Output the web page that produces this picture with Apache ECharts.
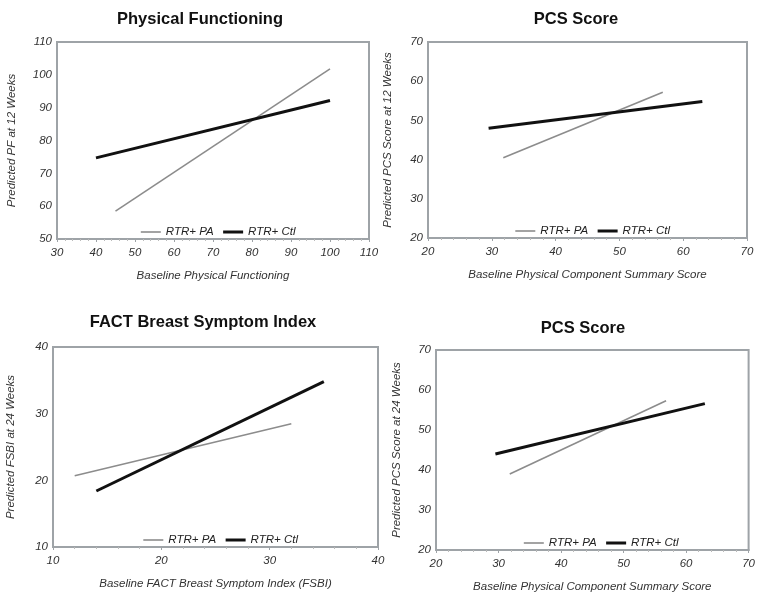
<!DOCTYPE html>
<html><head><meta charset="utf-8">
<script src="https://cdn.jsdelivr.net/npm/echarts@6/dist/echarts.min.js"></script>
<style>html,body{margin:0;padding:0;background:#fff}#c{width:758px;height:597px}</style>
</head><body><div id="c"></div>
<script>
// Panel titles
const titles = ['Physical Functioning', 'PCS Score', 'FACT Breast Symptom Index', 'PCS Score'];
const xNames = ['Baseline Physical Functioning', 'Baseline Physical Component Summary Score', 'Baseline FACT Breast Symptom Index (FSBI)', 'Baseline Physical Component Summary Score'];
const yNames = ['Predicted PF at 12 Weeks', 'Predicted PCS Score at 12 Weeks', 'Predicted FSBI at 24 Weeks', 'Predicted PCS Score at 24 Weeks'];
const seriesNames = ['RTR+ PA', 'RTR+ Ctl'];
// axis ranges [min, max, interval]
const xRanges = [[30, 110, 10], [20, 70, 10], [10, 40, 10], [20, 70, 10]];
const yRanges = [[50, 110, 10], [20, 70, 10], [10, 40, 10], [20, 70, 10]];
// Line endpoints per panel
const paX = [[45, 100], [31.8, 56.8], [12, 32], [31.8, 56.8]];
const paY = [[58.5, 101.8], [40.5, 57.2], [20.7, 28.5], [39, 57.3]];
const ctlX = [[40, 100], [29.5, 63], [14, 35], [29.5, 63]];
const ctlY = [[74.7, 92.2], [48, 54.8], [18.4, 34.8], [44, 56.6]];

const grids = [
  {left: 57, top: 42, width: 312, height: 197},
  {left: 428, top: 42, width: 319, height: 196},
  {left: 53, top: 347, width: 325, height: 200},
  {left: 436, top: 350, width: 320, height: 200}
];
const titlePos = [[195, 6], [571, 6], [198, 309], [578, 315]];
const yNameX = [18, 394, 17, 403];

const frameColor = '#9ea3a7';
const lab = {fontFamily: 'Liberation Sans, Arial, sans-serif', fontStyle: 'italic', fontSize: 11.5, color: '#333'};

const option = {
  animation: false,
  backgroundColor: '#fff',
  title: titles.map((t, i) => ({
    text: t, left: titlePos[i][0], top: titlePos[i][1], textAlign: 'center',
    textStyle: {fontFamily: 'Liberation Sans, Arial, sans-serif', fontWeight: 'bold', fontSize: 16.5, color: '#111'}
  })),
  grid: grids.map(g => Object.assign({show: true, borderColor: frameColor, borderWidth: 2, backgroundColor: '#fff'}, g)),
  legend: grids.map((g, i) => ({
    data: [
      {name: seriesNames[0], lineStyle: {width: 1.6, color: '#8c8c8c'}},
      {name: seriesNames[1], lineStyle: {width: 3, color: '#111'}}
    ],
    left: g.left + g.width / 2 - 78, top: g.top + g.height - 18,
    orient: 'horizontal',
    itemWidth: 20, itemHeight: 10, itemGap: 8,
    itemStyle: {opacity: 0},
    textStyle: Object.assign({}, lab, {fontSize: 11.5, color: '#222'}),
    selectedMode: false
  })),
  xAxis: xRanges.map((r, i) => ({
    type: 'value', gridIndex: i, min: r[0], max: r[1], interval: r[2],
    name: xNames[i], nameLocation: 'middle', nameGap: 31,
    nameTextStyle: Object.assign({}, lab),
    axisLine: {show: true, lineStyle: {color: frameColor, width: 2}},
    axisTick: {show: true, inside: false, length: 3, lineStyle: {color: frameColor}},
    minorTick: {show: true, splitNumber: 5, length: 2, lineStyle: {color: '#bbb'}},
    splitLine: {show: false},
    axisLabel: Object.assign({}, lab, {margin: 8})
  })),
  yAxis: yRanges.map((r, i) => ({
    type: 'value', gridIndex: i, min: r[0], max: r[1], interval: r[2],
    name: yNames[i], nameLocation: 'middle', nameRotate: 90,
    nameGap: grids[i].left - yNameX[i],
    nameTextStyle: Object.assign({}, lab),
    axisLine: {show: true, lineStyle: {color: frameColor, width: 2}},
    axisTick: {show: false},
    splitLine: {show: false},
    axisLabel: Object.assign({}, lab, {margin: 5})
  })),
  series: []
};
for (let i = 0; i < 4; i++) {
  option.series.push({
    name: seriesNames[0], type: 'line', xAxisIndex: i, yAxisIndex: i, symbol: 'none',
    data: paX[i].map((x, k) => [x, paY[i][k]]),
    lineStyle: {color: '#8c8c8c', width: 1.6}, itemStyle: {color: '#8c8c8c'}, z: 2
  });
  option.series.push({
    name: seriesNames[1], type: 'line', xAxisIndex: i, yAxisIndex: i, symbol: 'none',
    data: ctlX[i].map((x, k) => [x, ctlY[i][k]]),
    lineStyle: {color: '#111', width: 3}, itemStyle: {color: '#111'}, z: 3
  });
}
const chart = echarts.init(document.getElementById('c'), null, {renderer: 'canvas'});
chart.setOption(option);
</script></body></html>
